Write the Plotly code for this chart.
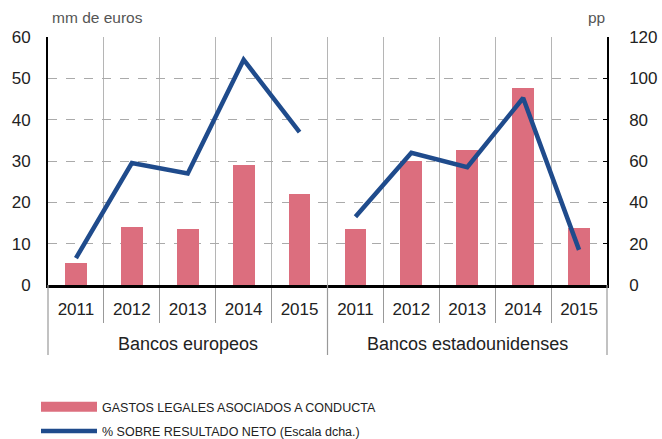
import plotly.graph_objects as go

years = ["2011", "2012", "2013", "2014", "2015"]
groups = ["Bancos europeos", "Bancos estadounidenses"]
gastos_eu = [5.3, 14.0, 13.5, 29.0, 22.0]
gastos_us = [13.5, 30.0, 32.7, 47.7, 13.8]
pct_eu = [13, 59, 54, 109, 74]
pct_us = [33, 64, 57, 90.5, 17]
y_ticks_left = [0, 10, 20, 30, 40, 50, 60]
y_ticks_right = [0, 20, 40, 60, 80, 100, 120]

bar_color = "#DC6E7E"
line_color = "#1F4B8C"
txt = "#222222"
label_font = "Liberation Sans, Arial, sans-serif"

n = len(years)
x_eu = list(range(n))
x_us = list(range(n, 2 * n))
all_x = x_eu + x_us
all_years = years + years

W, H = 662, 439
ML, MT = 48, 37
PW, PH = 559, 248
MR = W - ML - PW
MB = H - MT - PH

fig = go.Figure()

fig.add_trace(go.Bar(
    x=all_x, y=gastos_eu + gastos_us, width=0.39,
    marker=dict(color=bar_color, line=dict(width=0)),
    name="GASTOS LEGALES ASOCIADOS A CONDUCTA", showlegend=False,
))
# legend entry for bars (wide swatch)
fig.add_trace(go.Scatter(
    x=[None], y=[None], mode="lines",
    line=dict(color=bar_color, width=10),
    name="GASTOS LEGALES ASOCIADOS A CONDUCTA", showlegend=True,
))
fig.add_trace(go.Scatter(
    x=x_eu, y=pct_eu, yaxis="y2", mode="lines",
    line=dict(color=line_color, width=4.5),
    name="% SOBRE RESULTADO NETO (Escala dcha.)", legendgroup="pct", showlegend=True,
))
fig.add_trace(go.Scatter(
    x=x_us, y=pct_us, yaxis="y2", mode="lines",
    line=dict(color=line_color, width=4.5),
    name="% SOBRE RESULTADO NETO (Escala dcha.)", legendgroup="pct", showlegend=False,
))

sep_vals = [i + 0.5 for i in range(2 * n - 1)]

shapes = []
for xv, xr in [(0, "paper"), (n - 0.5, "x"), (1, "paper")]:
    shapes.append(dict(type="line", xref=xr, yref="paper", x0=xv, x1=xv,
                       y0=0, y1=-70 / PH, line=dict(color="#999999", width=1.2), layer="above"))

annotations = [
    dict(text="mm de euros", xref="paper", yref="paper", x=0.003, y=(285 - 17) / PH,
         xanchor="left", yanchor="middle", showarrow=False, font=dict(size=15.5, color="#555555", family=label_font)),
    dict(text="pp", xref="paper", yref="paper", x=1, y=(285 - 17) / PH,
         xanchor="right", yanchor="middle", showarrow=False, font=dict(size=15.5, color="#555555", family=label_font)),
]
for gi, g in enumerate(groups):
    annotations.append(dict(text=g, xref="x", yref="paper", x=gi * n + (n - 1) / 2, y=-59 / PH,
                            xanchor="center", yanchor="middle", showarrow=False,
                            font=dict(size=18, color=txt, family=label_font)))

fig.update_layout(
    width=W, height=H,
    margin=dict(l=ML, r=MR, t=MT, b=MB, autoexpand=False),
    paper_bgcolor="white", plot_bgcolor="white",
    font=dict(family=label_font, color=txt),
    bargap=0,
    shapes=shapes,
    annotations=annotations,
    xaxis=dict(
        range=[-0.5, 2 * n - 0.5], automargin=False,
        tickmode="array", tickvals=all_x, ticktext=all_years,
        tickfont=dict(size=17, color=txt),
        ticks="", showgrid=False, zeroline=False,
        showline=True, linecolor="black", linewidth=2.5,
        ticklabelstandoff=7,
        minor=dict(tickmode="array", tickvals=sep_vals, showgrid=True, gridcolor="#B5B5B5",
                   gridwidth=1, ticks="outside", ticklen=35, tickcolor="#999999", tickwidth=1.2),
    ),
    yaxis=dict(
        range=[0, 60], tickmode="array", tickvals=y_ticks_left, automargin=False,
        tickfont=dict(size=17, color=txt),
        showgrid=True, gridcolor="#AAAAAA", griddash="dash", gridwidth=1,
        zeroline=False, showline=True, linecolor="black", linewidth=2,
        ticks="", ticklabelstandoff=12,
    ),
    yaxis2=dict(
        range=[0, 120], tickmode="array", tickvals=y_ticks_right, automargin=False,
        overlaying="y", side="right",
        tickfont=dict(size=17, color=txt),
        showgrid=False, zeroline=False, showline=True, linecolor="black", linewidth=1.5,
        ticks="inside", ticklen=4, tickcolor="black", ticklabelstandoff=17,
    ),
    legend=dict(
        xref="container", yref="container",
        x=36 / W, y=1 - 392 / H, xanchor="left", yanchor="top",
        orientation="v", font=dict(size=12.5, color=txt, family=label_font),
        tracegroupgap=5, itemwidth=56, bgcolor="rgba(0,0,0,0)",
    ),
)

fig.write_html(
    "out.html",
    config={"displayModeBar": False},
    post_script="document.body.style.margin='0';document.documentElement.style.overflow='hidden';",
)
